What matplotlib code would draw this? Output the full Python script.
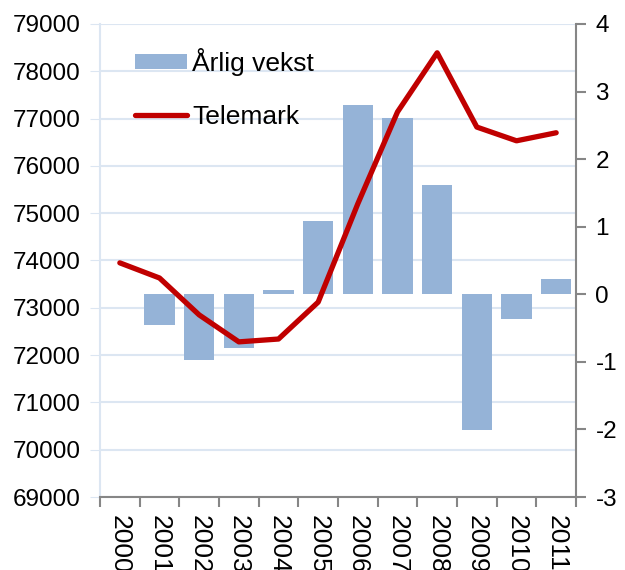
import numpy as np
import matplotlib
matplotlib.use("Agg")
import matplotlib.pyplot as plt
from matplotlib.ticker import FixedLocator

# data
years = ["2000", "2001", "2002", "2003", "2004", "2005",
         "2006", "2007", "2008", "2009", "2010", "2011"]
telemark = [73950, 73630, 72850, 72280, 72340, 73120,
            75200, 77140, 78390, 76820, 76530, 76700]
vekst = [np.nan, -0.46, -0.97, -0.79, 0.06, 1.08,
         2.80, 2.61, 1.62, -2.01, -0.37, 0.22]

BAR_COLOR = "#95b3d7"
LINE_COLOR = "#c00000"
GRID_COLOR = "#dce6f2"
AXIS_GRAY = "#868686"

plt.rcParams["font.family"] = ["Liberation Sans", "DejaVu Sans"]
plt.rcParams["font.size"] = 17.5
plt.rcParams["axes.unicode_minus"] = False

fig = plt.figure(figsize=(6.25, 5.7), dpi=100)
ax1 = fig.add_axes([0.16, 0.128, 0.7616, 0.83])
ax2 = ax1.twinx()

x = np.arange(len(years))

# left axis: population, grid
ax1.set_ylim(69000, 79000)
ax1.set_yticks(np.arange(69000, 79001, 1000))
ax1.grid(axis="y", color=GRID_COLOR, linewidth=1.5)
ax1.set_axisbelow(True)
ax1.tick_params(axis="y", length=7, color=GRID_COLOR, pad=7)
ax1.spines["left"].set_color(GRID_COLOR)
ax1.spines["left"].set_linewidth(1.5)
for s in ("top", "right"):
    ax1.spines[s].set_visible(False)
ax1.spines["bottom"].set_color(AXIS_GRAY)
ax1.spines["bottom"].set_linewidth(1.5)

ax1.set_xlim(-0.5, len(years) - 0.5)
ax1.set_xticks(x)
ax1.set_xticklabels(years, rotation=270, va="top", ha="center", fontsize=19)
ax1.tick_params(axis="x", which="major", length=0, pad=13)
ax1.xaxis.set_minor_locator(FixedLocator(np.arange(-0.5, len(years), 1.0)))
ax1.tick_params(axis="x", which="minor", length=7, width=1.5, color=AXIS_GRAY)

# right axis: annual growth bars (line drawn here too so it sits on top)
bars = ax2.bar(x, vekst, width=0.76, color=BAR_COLOR, label="Årlig vekst")
line, = ax2.plot(x, telemark, color=LINE_COLOR, linewidth=3.8,
                 transform=ax1.transData, label="Telemark",
                 solid_capstyle="round", solid_joinstyle="round")
ax2.set_ylim(-3, 4)
ax2.set_yticks(np.arange(-3, 5, 1))
ax2.tick_params(axis="y", length=7, width=1.5, color=AXIS_GRAY, pad=7)
ax2.spines["right"].set_color(AXIS_GRAY)
ax2.spines["right"].set_linewidth(1.5)
for s in ("top", "left", "bottom"):
    ax2.spines[s].set_visible(False)

ax2.legend(handles=[bars, line], loc="upper left", bbox_to_anchor=(0.073, 0.95),
           frameon=False, borderaxespad=0, borderpad=0, fontsize=19,
           handlelength=1.97, handleheight=0.5, handletextpad=0.2,
           labelspacing=1.1)

fig.savefig("out.png", dpi=100)
